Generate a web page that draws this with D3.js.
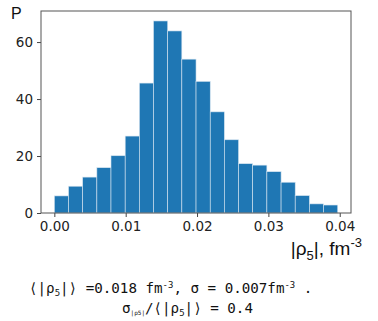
<!DOCTYPE html>
<html><head><meta charset="utf-8">
<script src="https://cdn.jsdelivr.net/npm/d3@7/dist/d3.min.js"></script>
<style>
html,body{margin:0;padding:0;background:#fff;}
svg{display:block;}
</style></head>
<body>
<svg id="chart" width="378" height="321"></svg>
<script>
// Histogram bin edges (|rho_5|, fm^-3)
const binEdges = [0, 0.00199, 0.00397, 0.00596, 0.00794, 0.00993, 0.01192, 0.0139, 0.01589, 0.01787,
  0.01986, 0.02185, 0.02383, 0.02582, 0.0278, 0.02979, 0.03178, 0.03376, 0.03575, 0.03773, 0.03972];
// Bar heights P
const counts = [6, 9.4, 12.6, 15.9, 20.1, 27, 45.6, 67.4, 63.9, 54, 46.2, 35.5, 25.7, 17.3, 16.8, 14.5, 10.8, 6.1, 3.2, 2.8];
const xTicks = [0, 0.01, 0.02, 0.03, 0.04];
const yTicks = [0, 20, 40, 60];

const svg = d3.select("#chart");
const L = 41, R = 351, T = 11, B = 213;
const x = d3.scaleLinear().domain([-0.00187, 0.04158]).range([L, R]);
const y = d3.scaleLinear().domain([0, 70.9]).range([B, T]);

const bins = counts.map((c, i) => ({x0: binEdges[i], x1: binEdges[i + 1], v: c}));

svg.append("g").selectAll("rect").data(bins).join("rect")
  .attr("x", d => x(d.x0))
  .attr("width", d => x(d.x1) - x(d.x0))
  .attr("y", d => y(d.v))
  .attr("height", d => y(0) - y(d.v))
  .attr("fill", "#1f77b4")
  .attr("stroke", "#d6e4f0")
  .attr("stroke-width", 0.6);

const tickFont = "'DejaVu Sans', sans-serif";
const xAxis = svg.append("g").attr("transform", `translate(0,${B})`)
  .call(d3.axisBottom(x).tickValues(xTicks).tickFormat(d3.format(".2f")).tickSize(4).tickPadding(4));
const yAxis = svg.append("g").attr("transform", `translate(${L},0)`)
  .call(d3.axisLeft(y).tickValues(yTicks).tickFormat(d3.format("d")).tickSize(4).tickPadding(4));
[xAxis, yAxis].forEach(g => {
  g.select(".domain").remove();
  g.selectAll(".tick line").attr("stroke", "#444");
  g.selectAll(".tick text").attr("fill", "#222").style("font-family", tickFont).style("font-size", "13.5px");
});

// frame
svg.append("rect").attr("x", L).attr("y", T).attr("width", R - L).attr("height", B - T)
  .attr("fill", "none").attr("stroke", "#555").attr("stroke-width", 1);

// axis labels
svg.append("text").attr("x", 11).attr("y", 19).text("P")
  .style("font-family", "'Liberation Sans', Arial, sans-serif").style("font-size", "16px").attr("fill", "#111");

const xl = svg.append("text").attr("x", 362).attr("y", 255).attr("text-anchor", "end")
  .style("font-family", "'Liberation Sans', Arial, sans-serif").style("font-size", "19px").attr("fill", "#111");
xl.append("tspan").text("|ρ");
xl.append("tspan").text("5").attr("dy", 5).style("font-size", "13px");
xl.append("tspan").text("|, fm").attr("dy", -5);
xl.append("tspan").text("-3").attr("dy", -8).style("font-size", "13px");

// annotation text
const mono = "'DejaVu Sans Mono', monospace";
const t1 = svg.append("text").attr("x", 29).attr("y", 293)
  .style("font-family", mono).style("font-size", "14.2px").attr("fill", "#111");
t1.append("tspan").text("⟨|ρ");
t1.append("tspan").text("5").attr("dy", 3).style("font-size", "9px");
t1.append("tspan").text("|⟩ =0.018 fm").attr("dy", -3);
t1.append("tspan").text("-3").attr("dy", -5).style("font-size", "9px");
t1.append("tspan").text(", σ = 0.007fm").attr("dy", 5);
t1.append("tspan").text("-3").attr("dy", -5).style("font-size", "9px");
t1.append("tspan").text(" .").attr("dy", 5).style("white-space", "pre");

const t2 = svg.append("text").attr("x", 122).attr("y", 313)
  .style("font-family", mono).style("font-size", "14.2px").attr("fill", "#111");
t2.append("tspan").text("σ");
t2.append("tspan").text("|ρ5|").attr("dy", 2).style("font-size", "6px");
t2.append("tspan").text("/⟨|ρ").attr("dy", -2);
t2.append("tspan").text("5").attr("dy", 3).style("font-size", "9px");
t2.append("tspan").text("|⟩ = 0.4").attr("dy", -3);
</script>
</body></html>
